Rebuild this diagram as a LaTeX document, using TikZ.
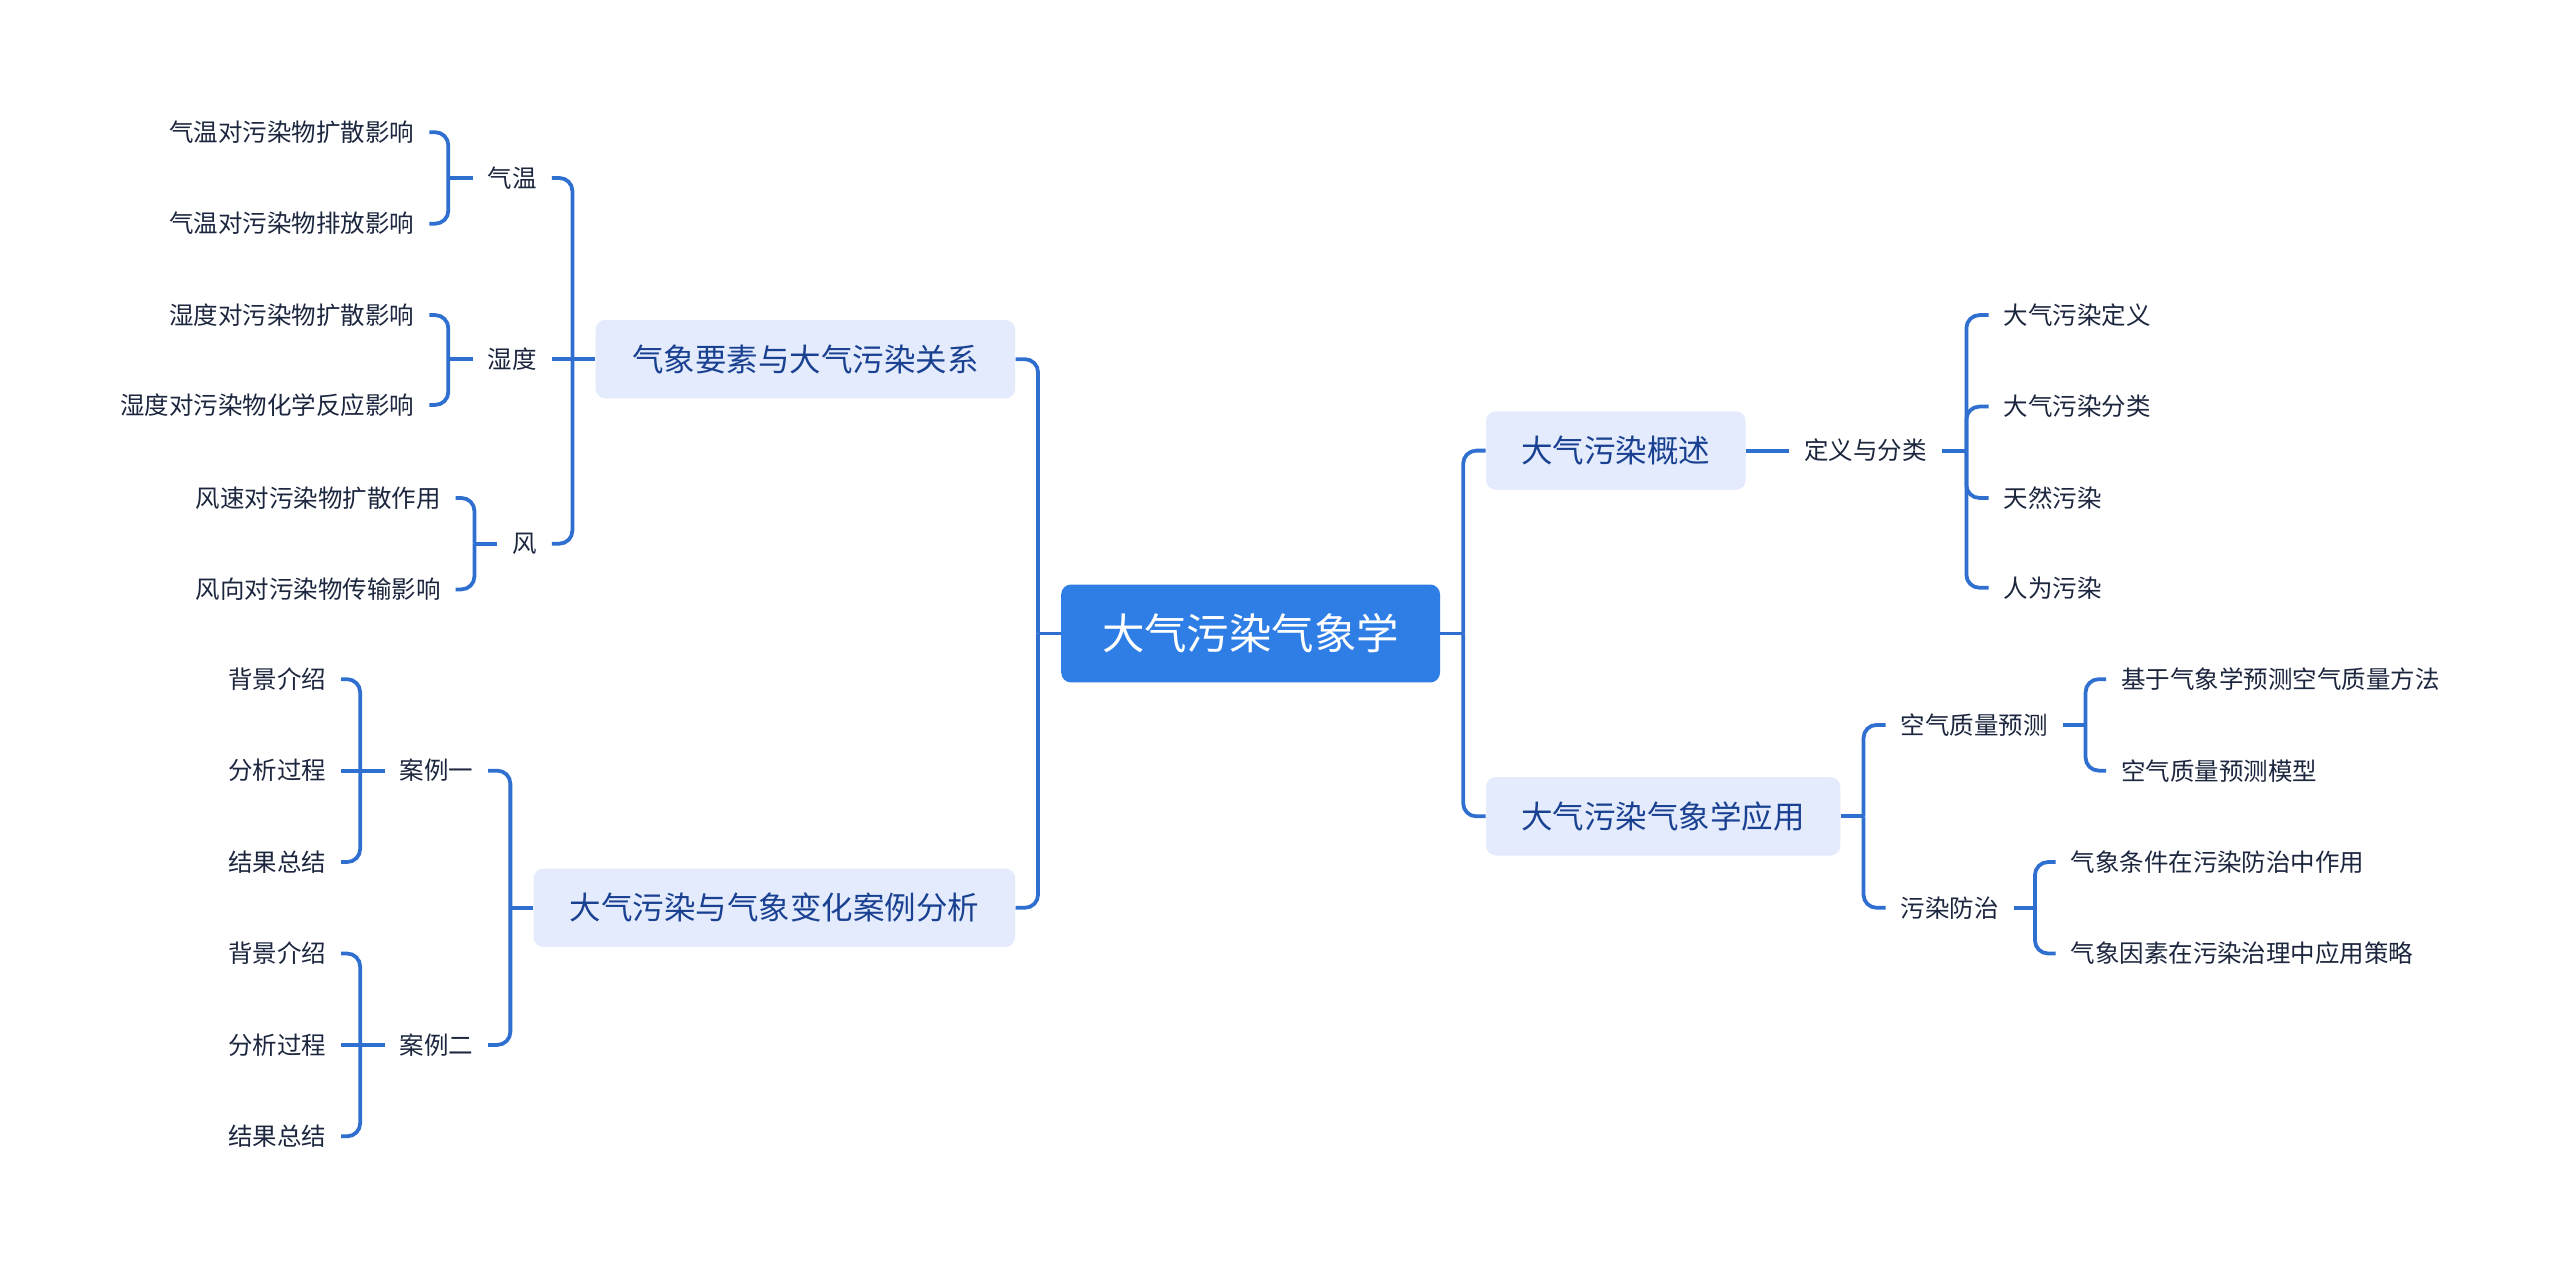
\documentclass[tikz,border=0pt]{standalone}
\usepackage{fontspec}
\setmainfont{Noto Sans CJK SC}
\definecolor{lnc}{HTML}{2F6FD0}
\definecolor{boxc}{HTML}{E3EBFC}
\definecolor{tpc}{HTML}{1A4191}
\definecolor{txc}{HTML}{1C263E}
\definecolor{rootc}{HTML}{2F7EE6}
\tikzset{
  conn/.style={draw=lnc, line width=2.3pt, rounded corners=8pt},
  leaf/.style={font=\fontsize{15}{18}\selectfont, text=txc, inner xsep=9pt, inner ysep=2pt},
  topic/.style={fill=boxc, rounded corners=6pt, text=tpc, font=\fontsize{19.3}{23}\selectfont, minimum height=48pt, inner xsep=0pt},
  rootn/.style={fill=rootc, rounded corners=6pt, text=white, font=\fontsize{26}{30}\selectfont, minimum height=60pt, minimum width=232pt, inner xsep=0pt}
}
\begin{document}
\begin{tikzpicture}[x=1pt,y=-1pt]
\useasboundingbox (0,0) rectangle (1568,777);
\fill[white] (0,0) rectangle (1568,777);

% root and main topics
\node[rootn] (root) at (766,388) {大气污染气象学};
\node[topic, minimum width=257pt, anchor=east] (qx) at (622,220) {气象要素与大气污染关系};
\node[topic, minimum width=295pt, anchor=east] (al) at (622,556) {大气污染与气象变化案例分析};
\node[topic, minimum width=159pt, anchor=west] (gs) at (910,276) {大气污染概述};
\node[topic, minimum width=217pt, anchor=west] (yy) at (910,500) {大气污染气象学应用};

% left subtree: 气象要素
\node[leaf, anchor=east] (qw) at (338,109) {气温};
\node[leaf, anchor=east] (sd) at (338,220) {湿度};
\node[leaf, anchor=east] (fe) at (338,333) {风};
\node[leaf, anchor=east] (qw1) at (263,81) {气温对污染物扩散影响};
\node[leaf, anchor=east] (qw2) at (263,137) {气温对污染物排放影响};
\node[leaf, anchor=east] (sd1) at (263,193) {湿度对污染物扩散影响};
\node[leaf, anchor=east] (sd2) at (263,248) {湿度对污染物化学反应影响};
\node[leaf, anchor=east] (fe1) at (279,305) {风速对污染物扩散作用};
\node[leaf, anchor=east] (fe2) at (279,361) {风向对污染物传输影响};

% left subtree: 案例分析
\node[leaf, anchor=east] (a1) at (299,472) {案例一};
\node[leaf, anchor=east] (a2) at (299,640) {案例二};
\node[leaf, anchor=east] (a11) at (209,416) {背景介绍};
\node[leaf, anchor=east] (a12) at (209,472) {分析过程};
\node[leaf, anchor=east] (a13) at (209,528) {结果总结};
\node[leaf, anchor=east] (a21) at (209,584) {背景介绍};
\node[leaf, anchor=east] (a22) at (209,640) {分析过程};
\node[leaf, anchor=east] (a23) at (209,696) {结果总结};

% right subtree: 概述
\node[leaf, anchor=west] (dy) at (1096,276) {定义与分类};
\node[leaf, anchor=west] (dy1) at (1218,193) {大气污染定义};
\node[leaf, anchor=west] (dy2) at (1218,249) {大气污染分类};
\node[leaf, anchor=west] (dy3) at (1218,305) {天然污染};
\node[leaf, anchor=west] (dy4) at (1218,360) {人为污染};

% right subtree: 应用
\node[leaf, anchor=west] (kq) at (1155,444) {空气质量预测};
\node[leaf, anchor=west] (wr) at (1155,556) {污染防治};
\node[leaf, anchor=west] (kq1) at (1290,416) {基于气象学预测空气质量方法};
\node[leaf, anchor=west] (kq2) at (1290,472) {空气质量预测模型};
\node[leaf, anchor=west] (wr1) at (1259,528) {气象条件在污染防治中作用};
\node[leaf, anchor=west] (wr2) at (1259,584) {气象因素在污染治理中应用策略};

% connectors: root
\draw[conn] (root.west) -- ++(-14,0) coordinate (jRL);
\draw[conn] (jRL) |- (qx.east);
\draw[conn] (jRL) |- (al.east);
\draw[conn] (root.east) -- ++(14,0) coordinate (jRR);
\draw[conn] (jRR) |- (gs.west);
\draw[conn] (jRR) |- (yy.west);

% qx
\draw[conn] (qx.west) -- ++(-14,0) coordinate (jqx);
\draw[conn] (jqx) |- (qw.east);
\draw[conn] (jqx) -- (sd.east);
\draw[conn] (jqx) |- (fe.east);
\draw[conn] (qw.west) -- ++(-15,0) coordinate (jqw);
\draw[conn] (jqw) |- (qw1.east);
\draw[conn] (jqw) |- (qw2.east);
\draw[conn] (sd.west) -- ++(-15,0) coordinate (jsd);
\draw[conn] (jsd) |- (sd1.east);
\draw[conn] (jsd) |- (sd2.east);
\draw[conn] (fe.west) -- ++(-14,0) coordinate (jfe);
\draw[conn] (jfe) |- (fe1.east);
\draw[conn] (jfe) |- (fe2.east);

% al
\draw[conn] (al.west) -- ++(-14,0) coordinate (jal);
\draw[conn] (jal) |- (a1.east);
\draw[conn] (jal) |- (a2.east);
\draw[conn] (a1.west) -- ++(-15,0) coordinate (ja1);
\draw[conn] (ja1) |- (a11.east);
\draw[conn] (ja1) -- (a12.east);
\draw[conn] (ja1) |- (a13.east);
\draw[conn] (a2.west) -- ++(-15,0) coordinate (ja2);
\draw[conn] (ja2) |- (a21.east);
\draw[conn] (ja2) -- (a22.east);
\draw[conn] (ja2) |- (a23.east);

% gs
\draw[conn] (gs.east) -- (dy.west);
\draw[conn] (dy.east) -- ++(15,0) coordinate (jdy);
\draw[conn] (jdy) |- (dy1.west);
\draw[conn] (jdy) |- (dy2.west);
\draw[conn] (jdy) |- (dy3.west);
\draw[conn] (jdy) |- (dy4.west);

% yy
\draw[conn] (yy.east) -- ++(14,0) coordinate (jyy);
\draw[conn] (jyy) |- (kq.west);
\draw[conn] (jyy) |- (wr.west);
\draw[conn] (kq.east) -- ++(14,0) coordinate (jkq);
\draw[conn] (jkq) |- (kq1.west);
\draw[conn] (jkq) |- (kq2.west);
\draw[conn] (wr.east) -- ++(13,0) coordinate (jwr);
\draw[conn] (jwr) |- (wr1.west);
\draw[conn] (jwr) |- (wr2.west);
\end{tikzpicture}
\end{document}
